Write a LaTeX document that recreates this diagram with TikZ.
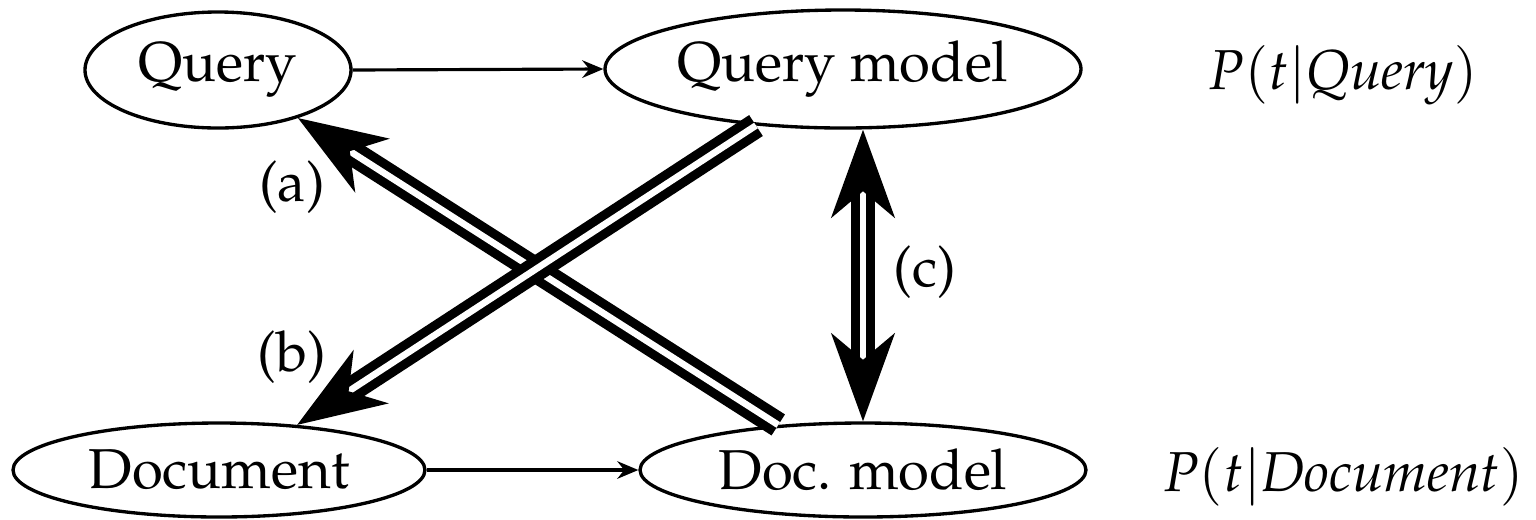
\documentclass[tikz,border=0pt]{standalone}
\usepackage[T1]{fontenc}
\usepackage{mathpazo}
\usetikzlibrary{arrows.meta,shapes.geometric,calc}
\begin{document}
\begin{tikzpicture}[
  state/.style={ellipse, draw, line width=0.95pt, inner sep=0pt, font=\fontsize{16}{19}\selectfont},
  thinarrow/.style={line width=0.9pt, -{Stealth[length=6pt,width=5pt,inset=2pt]}},
  bigline/.style={double, line width=2.6pt, double distance=1.9pt},
  bigtip/.style={Stealth[length=25pt,width=18pt,inset=7.5pt]},
  lab/.style={font=\fontsize{16}{19}\selectfont, inner sep=0pt}]
\useasboundingbox (0,0) rectangle (15.36,-5.19);
\node[state, minimum width=2.66cm, minimum height=1.16cm] (Q) at (2.18,-0.70) {Query};
\node[state, minimum width=4.76cm, minimum height=1.18cm] (QM) at (8.43,-0.69) {Query model};
\node[state, minimum width=4.12cm, minimum height=0.94cm] (D) at (2.19,-4.70) {Document};
\node[state, minimum width=4.46cm, minimum height=0.94cm] (DM) at (8.63,-4.70) {Doc. model};
\draw[thinarrow] (Q.east) -- (QM.west);
\draw[thinarrow] (D.east) -- (DM.west);
\draw[bigline, -{Stealth[length=25pt,width=18pt,inset=7.5pt]}] (DM.152) -- (Q.-31);
\draw[bigline, -{Stealth[length=25pt,width=18pt,inset=7.5pt]}] (QM.213) -- (D.30);
\draw[bigline, {Stealth[length=25pt,width=18pt,inset=7.5pt]}-{Stealth[length=25pt,width=18pt,inset=7.5pt]}] (QM.south -| DM.north) -- (DM.north);
\node[lab] (la) at (2.92,-1.87) {(a)};
\node[lab] (lb) at (2.92,-3.57) {(b)};
\node[lab] (lc) at (9.25,-2.72) {(c)};
\node[lab] (pq) at (13.43,-0.75) {$P(t|\textit{Query})$};
\node[lab] (pd) at (13.43,-4.77) {$P(t|\textit{Document})$};
\end{tikzpicture}
\end{document}
